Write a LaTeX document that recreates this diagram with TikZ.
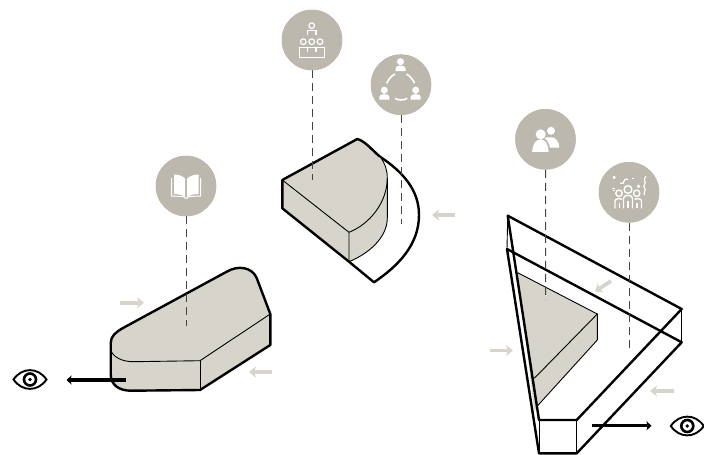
\documentclass[tikz,border=0pt]{standalone}
\usetikzlibrary{arrows.meta}
\definecolor{disc}{HTML}{BCB8AD}
\definecolor{massfill}{HTML}{D6D4CB}
\definecolor{dashgrey}{HTML}{444444}
\tikzset{
  x=1pt,y=-1pt,
  disc/.style={circle,fill=disc,draw=none,minimum size=60.5pt,inner sep=0pt},
  drop/.style={draw=dashgrey,line width=0.95pt,dash pattern=on 8pt off 5pt},
  heavy/.style={draw=black,line width=2.4pt,line join=round},
  thin edge/.style={draw=black,line width=0.9pt},
  wind/.style={draw=massfill,line width=3.8pt,-{Stealth[length=7pt,width=11pt,inset=2pt]}},
  view/.style={draw=black,line width=3.2pt,-{Stealth[length=5pt,width=9pt,inset=1pt]}},
  icon/.style={draw=white,line width=1.2pt,fill=none},
}
\newcommand{\eyeglyph}[2]{%
  \begin{scope}[shift={(#1,#2)}]
    \draw[black,line width=1.9pt] (-16.5,0) .. controls (-8,-12.5) and (8,-12.5) .. (16.5,0) .. controls (8,12.5) and (-8,12.5) .. (-16.5,0) -- cycle;
    \draw[black,line width=2.6pt] (0,0) circle (6);
    \fill[black] (0,0) circle (1.9);
  \end{scope}}
\newcommand{\personglyph}[2]{%
  \fill[white] (#1,#2-3.5) circle (3.5);
  \fill[white] (#1-5,#2+6) -- (#1-5,#2+3) .. controls (#1-5,#2-0.5) and (#1+5,#2-0.5) .. (#1+5,#2+3) -- (#1+5,#2+6) -- cycle;}
\begin{document}
\begin{tikzpicture}
\useasboundingbox (0,0) rectangle (704,455);
% discs
\node[disc] (book) at (186,186) {};
\node[disc] (org) at (312,40) {};
\node[disc] (meet) at (401,84.7) {};
\node[disc] (pair) at (545.5,139.3) {};
\node[disc] (crowd) at (629,192.3) {};
\coordinate (bookEnd) at (186,326);
\coordinate (orgEnd) at (312,180);
\coordinate (meetEnd) at (401,224);
\coordinate (pairEnd) at (545.7,300);
\coordinate (crowdEnd) at (629,352);

% left mass
\fill[massfill] (110.7,343) .. controls (110.7,336) and (116,332) .. (123,328) -- (226.7,271.7) .. controls (238,265) and (252,267) .. (256.7,278) -- (270.3,314) -- (270.3,345) -- (200,390) -- (131,390.7) .. controls (119,390.7) and (110.7,385) .. (110.7,374) -- cycle;
\draw[thin edge] (110.7,350) .. controls (113,357) and (122,361.7) .. (133,361.7) -- (200,360.7) -- (270.3,314);
\draw[thin edge] (200,360.7) -- (200,390);
\draw[heavy] (110.7,343) .. controls (110.7,336) and (116,332) .. (123,328) -- (226.7,271.7) .. controls (238,265) and (252,267) .. (256.7,278) -- (270.3,314) -- (270.3,345) -- (200,390) -- (131,390.7) .. controls (119,390.7) and (110.7,385) .. (110.7,374) -- cycle;

% middle mass
\draw[heavy] (380,156.7) .. controls (403,172) and (419,190) .. (419,215) .. controls (419,245) and (398,266) .. (374,282.3) -- (349,261.7);
\fill[massfill] (282.3,180) -- (357.3,139) .. controls (370,142) and (387.3,160) .. (387.3,178) -- (387.3,218) .. controls (387.3,238) and (368,254) .. (349,261.7) -- (282.3,208.3) -- cycle;
\draw[thin edge] (282.3,180) -- (349,232.3) -- (349,261.7);
\draw[thin edge] (349,232.3) .. controls (370,224) and (387.3,202) .. (387.3,178);
\draw[thin edge] (380,156.7) .. controls (385,163) and (387.3,170) .. (387.3,178) -- (387.3,218) .. controls (387.3,238) and (368,254) .. (349,261.7);
\draw[heavy] (349,261.7) -- (282.3,208.3) -- (282.3,180) -- (357.3,139) .. controls (365,141) and (372,150) .. (380,156.7);

% right mass
\fill[massfill] (517.7,272.7) -- (597.3,314) -- (597.3,340) -- (536.7,406.7) -- (534.3,411) -- cycle;
\draw[thin edge] (517.7,272.7) -- (597.3,314) -- (597.3,340) -- (536.7,406.7);
\draw[thin edge] (534.3,378.3) -- (597.3,314);
\draw[heavy] (507.7,215.7) -- (681.7,309) -- (576.7,420) -- (539,420) -- cycle;
\draw[heavy] (507,249) -- (681.7,342.3) -- (576.7,453.3) -- (539,453.3) -- cycle;
\draw[thin edge] (507.7,215.7) -- (507,249);
\draw[thin edge] (681.7,309) -- (681.7,342.3);
\draw[thin edge] (539,420) -- (539,453.3);
\draw[thin edge] (576.7,420) -- (576.7,453.3);

% dashed drops
\draw[drop] (book) -- (bookEnd);
\draw[drop] (org) -- (orgEnd);
\draw[drop] (meet) -- (meetEnd);
\draw[drop] (pair) -- (pairEnd);
\draw[drop] (crowd) -- (crowdEnd);
\node[disc] at (book) {};
\node[disc] at (org) {};
\node[disc] at (meet) {};
\node[disc] at (pair) {};
\node[disc] at (crowd) {};

% wind arrows
\coordinate (w1a) at (120,302.7); \coordinate (w1b) at (144,302.7);
\coordinate (w2a) at (272,372); \coordinate (w2b) at (249,372);
\coordinate (w3a) at (455,215); \coordinate (w3b) at (432,215);
\coordinate (w4a) at (490,350.5); \coordinate (w4b) at (513,350.5);
\coordinate (w5a) at (674,391); \coordinate (w5b) at (650,391);
\coordinate (w6a) at (611,281); \coordinate (w6b) at (595,291.5);
\draw[wind] (w1a) -- (w1b);
\draw[wind] (w2a) -- (w2b);
\draw[wind] (w3a) -- (w3b);
\draw[wind] (w4a) -- (w4b);
\draw[wind] (w5a) -- (w5b);
\draw[wind] (w6a) -- (w6b);

% view arrows
\coordinate (v1a) at (126,380); \coordinate (v1b) at (66.5,380);
\coordinate (v2a) at (592,425.8); \coordinate (v2b) at (651.5,425.8);
\draw[view] (v1a) -- (v1b);
\draw[view] (v2a) -- (v2b);
\eyeglyph{30}{379.5}
\eyeglyph{687.3}{426}

% book icon
\begin{scope}[shift={(book)}]
  \draw[icon,line width=1pt] (-14.3,-8) -- (-14.3,10) -- (-3,10.5) -- (0.2,12.5) -- (3.5,10.5) -- (14.7,10) -- (14.7,-8);
  \fill[white] (-0.8,-7.5) .. controls (-3.5,-10) and (-7,-11.5) .. (-12,-11.5) -- (-12,8) .. controls (-7,8) and (-3.5,9) .. (-0.8,11) -- cycle;
  \fill[white] (1.2,-7.5) .. controls (4,-10) and (7.5,-11.5) .. (12.5,-11.5) -- (12.5,8) .. controls (7.5,8) and (4,9) .. (1.2,11) -- cycle;
\end{scope}

% organisation icon
\begin{scope}[shift={(org)}]
  \draw[icon] (-0.3,-14.3) circle (2.8);
  \draw[icon] (-4.5,-5) -- (-4.5,-9.5) -- (4,-9.5) -- (4,-5);
  \draw[icon] (-8.7,1.7) circle (2.8);
  \draw[icon] (-0.3,1.7) circle (2.8);
  \draw[icon] (8,1.7) circle (2.8);
  \draw[icon] (-12.7,7.3) rectangle (12.3,17.3);
  \draw[icon] (-4.3,7.3) -- (-4.3,12);
  \draw[icon] (4,7.3) -- (4,12);
\end{scope}

% meeting icon
\begin{scope}[shift={(meet)}]
  \personglyph{-0.5}{-19.5}
  \personglyph{-16.7}{9}
  \personglyph{14.7}{9}
  \draw[white,line width=1.6pt] (-14.3,-1.4) .. controls (-12.5,-5.5) and (-10,-8.5) .. (-6,-10.7);
  \draw[white,line width=1.6pt] (5.5,-10.7) .. controls (9,-8.5) and (12,-5.5) .. (13.5,-1.4);
  \draw[white,line width=1.6pt] (-6,13.6) .. controls (-3,15.8) and (3,15.8) .. (6.3,13.6);
\end{scope}

% pair icon
\begin{scope}[shift={(pair)}]
  \fill[white] (5.5,-8.5) circle (4);
  \fill[white] (5,-2) .. controls (10,-3) and (14,3) .. (13.7,8.3) -- (4.5,8.3) .. controls (4,4) and (1,0) .. (-1,-1) .. controls (0,-2) and (3,-2.5) .. (5,-2) -- cycle;
  \fill[white] (-4.8,-5) circle (5);
  \fill[white] (-13.3,12.5) .. controls (-13,4) and (-9,0) .. (-5,0) .. controls (-1,0) and (3,4) .. (3,12.5) -- cycle;
\end{scope}

% crowd icon
\begin{scope}[shift={(crowd)}]
  \begin{scope}[icon]
    \draw[line width=1.4pt] (-1,-2.8) circle (3.9);
    \draw[line width=1.4pt] (-10,1) circle (3.2);
    \draw[line width=1.4pt] (7.7,1) circle (3.2);
    \draw[line width=1.4pt] (-5.5,16) -- (-5.5,6) .. controls (-5.5,2) and (3.5,2) .. (3.5,6) -- (3.5,16);
    \draw[line width=1.4pt] (-1,9) -- (-1,16);
    \draw[line width=1.4pt] (-14,16) -- (-14,9) .. controls (-14,6) and (-9,6) .. (-7,7);
    \draw[line width=1.4pt] (12.5,16) -- (12.5,9) .. controls (12.5,6) and (8,6) .. (5.5,7);
    \draw[line width=1.4pt] (-9.7,11) -- (-9.7,16);
    \draw[line width=1.4pt] (8,11) -- (8,16);
    \draw (-9,-9) -- (-6,-9) -- (-4,-13) -- (-1,-13);
    \draw (3,-13.5) -- (5,-13.5);
    \draw (-16.5,-15) -- (-13.5,-15);
    \draw (-15,-16.5) -- (-15,-13.5);
    \draw (-17.5,-3.5) -- (-14.5,-3.5);
    \draw (-16,-1.5) -- (-14.5,-1.5);
    \draw (9.5,-6) circle (1.1);
    \draw (17,-16) .. controls (13,-12) and (18,-11) .. (15.5,-8) .. controls (13,-5) and (18,-4) .. (15.5,-1) .. controls (14,1) and (16,2) .. (15.5,3);
  \end{scope}
\end{scope}
\end{tikzpicture}
\end{document}
